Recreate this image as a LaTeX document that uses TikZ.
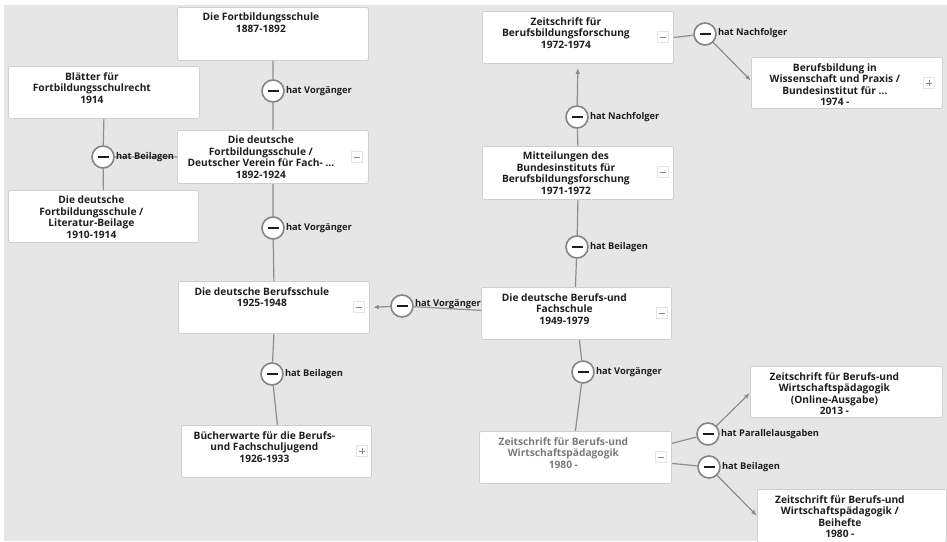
\documentclass[tikz,border=0pt]{standalone}
\usepackage{fontspec}
\setmainfont{Open Sans}
\usetikzlibrary{arrows.meta}
\definecolor{bgc}{HTML}{E6E6E6}
\definecolor{boxline}{HTML}{CFCFCF}
\definecolor{edgec}{HTML}{8E8E8E}
\definecolor{circc}{HTML}{858585}
\definecolor{txtc}{HTML}{1E1E1E}
\definecolor{graytxt}{HTML}{7A7A7A}
\definecolor{btnline}{HTML}{E4E4E4}
\definecolor{btnmark}{HTML}{8A8A8A}
\pgfdeclarelayer{bgl}
\pgfdeclarelayer{edgel}
\pgfsetlayers{bgl,edgel,main}
\tikzset{
  box/.style={draw=boxline, line width=0.8pt, fill=white, rounded corners=2pt, inner sep=0pt, anchor=north west},
  boxtxt/.style={font=\bfseries\fontsize{10.2}{11.5}\selectfont, text=txtc, align=center, inner sep=0pt, anchor=north},
  circ/.style={circle, draw=circc, line width=1.6pt, fill=white, minimum size=22pt, inner sep=0pt,
    path picture={\draw[line width=1.8pt, txtc] ([xshift=-5.5pt]path picture bounding box.center) -- ([xshift=5.5pt]path picture bounding box.center);}},
  lbl/.style={font=\bfseries\fontsize{9.3}{10}\selectfont, text=txtc, inner sep=0pt, anchor=west},
  edge/.style={draw=edgec, line width=1.2pt},
  arr/.style={edge, -{Latex[length=6pt,width=4.5pt]}},
  btnminus/.style={rectangle, draw=btnline, fill=white, line width=0.6pt, minimum size=11pt, inner sep=0pt,
    path picture={\draw[line width=1pt, btnmark] ([xshift=-3pt]path picture bounding box.center) -- ([xshift=3pt]path picture bounding box.center);}},
  btnplus/.style={btnminus,
    path picture={\draw[line width=1pt, btnmark] ([xshift=-3pt]path picture bounding box.center) -- ([xshift=3pt]path picture bounding box.center)
      ([yshift=-3pt]path picture bounding box.center) -- ([yshift=3pt]path picture bounding box.center);}}
}
\newcommand{\kbox}[6]{%
  \node[box, minimum width={(#4-#2)*1pt}, minimum height={(#5-#3)*1pt}] (#1) at (#2,#3) {};
  \node[boxtxt] (#1t) at ([xshift=-12pt,yshift=-6pt]#1.north) {#6};
}
\begin{document}
\begin{tikzpicture}[x=1pt,y=-1pt]
\begin{pgfonlayer}{bgl}
  \fill[white] (0,0) rectangle (947,541);
  \fill[bgc] (4,5) rectangle (947,541);
\end{pgfonlayer}
\useasboundingbox (0,0) rectangle (947,541);

% boxes
\kbox{b1}{177}{7}{368}{60}{Die Fortbildungsschule\\1887-1892}
\kbox{b2}{8}{66}{199}{118}{Blätter für\\Fortbildungsschulrecht\\1914}
\kbox{b3}{177}{130}{368}{183}{Die deutsche\\Fortbildungsschule /\\Deutscher Verein für Fach- ...\\1892-1924}
\kbox{b4}{8}{190}{198}{242}{Die deutsche\\Fortbildungsschule /\\Literatur-Beilage\\1910-1914}
\kbox{b5}{178}{281}{369}{333}{Die deutsche Berufsschule\\1925-1948}
\kbox{b6}{181}{425}{371}{477}{Bücherwarte für die Berufs-\\und Fachschuljugend\\1926-1933}
\kbox{b7}{481}{287}{671}{339}{Die deutsche Berufs-und\\Fachschule\\1949-1979}
\kbox{b8}{479}{431}{671}{483}{\textcolor{graytxt}{Zeitschrift für Berufs-und}\\\textcolor{graytxt}{Wirtschaftspädagogik}\\\textcolor{graytxt}{1980 -}}
\kbox{b9}{750}{366}{942}{417}{Zeitschrift für Berufs-und\\Wirtschaftspädagogik\\(Online-Ausgabe)\\2013 -}
\kbox{b10}{757}{489}{946}{542}{Zeitschrift für Berufs-und\\Wirtschaftspädagogik /\\Beihefte\\1980 -}
\kbox{b11}{482}{11}{673}{63}{Zeitschrift für\\Berufsbildungsforschung\\1972-1974}
\kbox{b12}{751}{57}{942}{108}{Berufsbildung in\\Wissenschaft und Praxis /\\Bundesinstitut für ...\\1974 -}
\kbox{b13}{482}{146}{673}{199}{Mitteilungen des\\Bundesinstituts für\\Berufsbildungsforschung\\1971-1972}

% buttons
\node[btnminus] (m3) at (357,157) {};
\node[btnminus] (m5) at (359,307) {};
\node[btnplus] (p6) at (362,451) {};
\node[btnminus] (m7) at (662,313) {};
\node[btnminus] (m8) at (661,457) {};
\node[btnminus] (m11) at (663,37) {};
\node[btnplus] (p12) at (929,83) {};
\node[btnminus] (m13) at (663,172) {};

% relation circles
\node[circ] (c1) at (273,91) {};
\node[circ] (c2) at (103,157) {};
\node[circ] (c3) at (273,228) {};
\node[circ] (c4) at (272,374) {};
\node[circ] (c5) at (402,306) {};
\node[circ] (c6) at (577,247) {};
\node[circ] (c7) at (577,117) {};
\node[circ] (c8) at (705,34) {};
\node[circ] (c9) at (583,372) {};
\node[circ] (c10) at (708,434) {};
\node[circ] (c11) at (709,467) {};

% labels
\node[lbl] (l1) at ([xshift=1pt]c1.east) {hat Vorgänger};
\node[lbl] (l2) at ([xshift=1pt]c2.east) {hat Beilagen};
\node[lbl] (l3) at ([xshift=1pt]c3.east) {hat Vorgänger};
\node[lbl] (l4) at ([xshift=1pt]c4.east) {hat Beilagen};
\node[lbl] (l5) at ([xshift=1pt,yshift=2pt]c5.east) {hat Vorgänger};
\node[lbl] (l6) at ([xshift=1pt]c6.east) {hat Beilagen};
\node[lbl] (l7) at ([xshift=1pt]c7.east) {hat Nachfolger};
\node[lbl] (l8) at ([xshift=1pt,yshift=1pt]c8.east) {hat Nachfolger};
\node[lbl] (l9) at ([xshift=1pt]c9.east) {hat Vorgänger};
\node[lbl] (l10) at ([xshift=1pt]c10.east) {hat Parallelausgaben};
\node[lbl] (l11) at ([xshift=1pt]c11.east) {hat Beilagen};

% connectors
\begin{pgfonlayer}{edgel}
  \draw[edge] (b1.south) -- (c1) -- (b3.north);
  \draw[edge] (b2.south) -- (c2) -- (b4.north);
  \draw[edge] (c2) -- (b3.west);
  \draw[edge] (b3.south) -- (c3) -- (b5.north);
  \draw[edge] (b5.south) -- (c4) -- ([xshift=1pt]b6.north);
  \draw[edge] ([yshift=3pt]b7.west) -- (c5);
  \draw[arr, shorten >=3pt] (c5) -- (b5.east);
  \draw[edge] (b13.south) -- (c6) -- ([xshift=-1pt]b7.north);
  \draw[edge] (b13.north) -- (c7);
  \draw[arr, shorten >=4pt] (c7) -- (b11.south);
  \draw[edge] (b11.east) -- (c8);
  \draw[arr] (c8) -- ([yshift=2pt]b12.west);
  \draw[edge] ([xshift=3pt]b7.south) -- (c9) -- (b8.north);
  \draw[edge] ([yshift=14pt]b8.east) -- (c10);
  \draw[arr] (c10) -- ([yshift=-1pt]b9.west);
  \draw[edge] ([yshift=-6pt]b8.east) -- (c11);
  \draw[arr] (c11) -- (b10.west);
\end{pgfonlayer}
\end{tikzpicture}
\end{document}
